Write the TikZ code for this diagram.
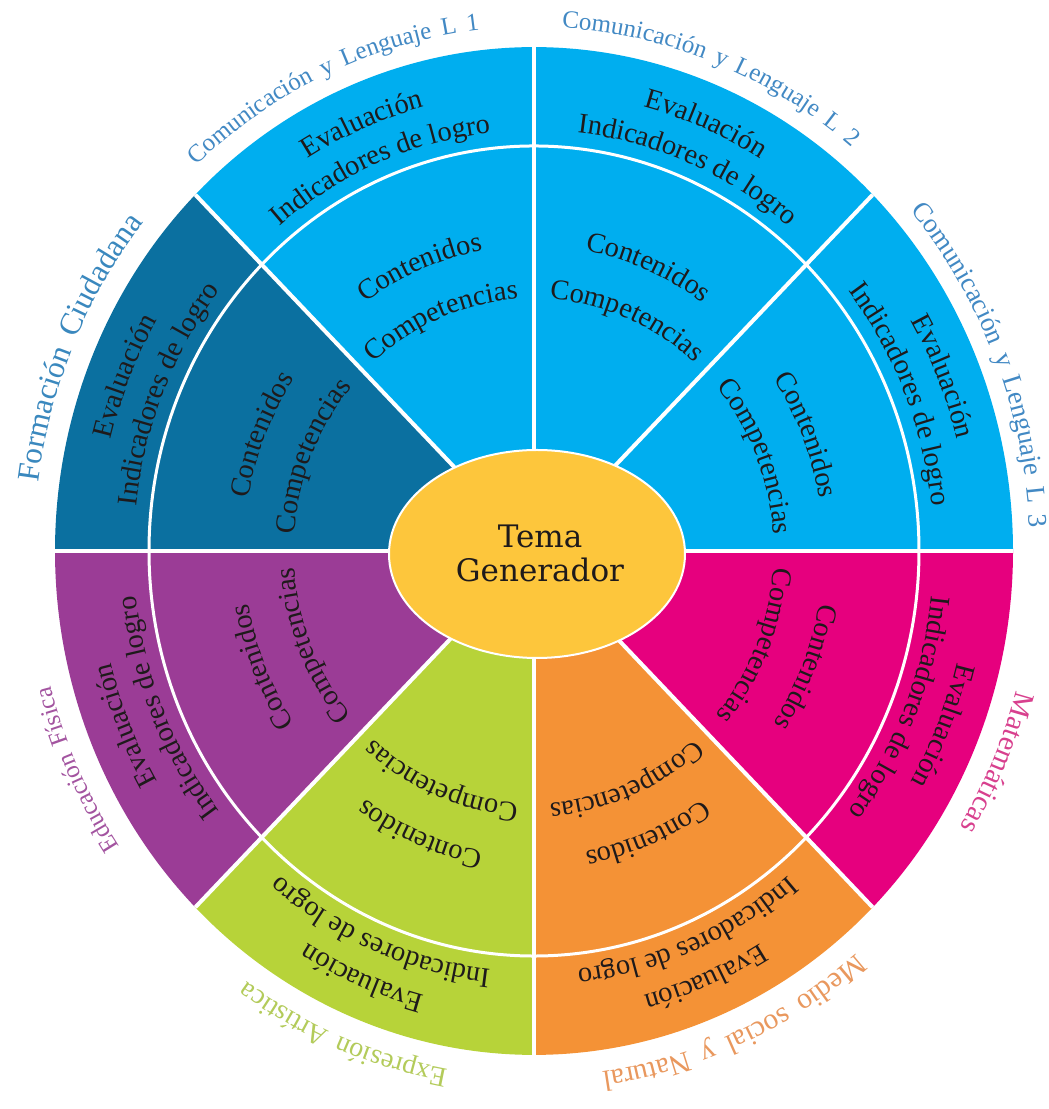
\documentclass[tikz,border=0pt]{standalone}
\usepackage{fontspec}
\setmainfont{Liberation Serif}
\newfontfamily\lblfont[LetterSpace=15]{Liberation Serif}
\newfontfamily\temafont{DejaVu Serif}
\usetikzlibrary{decorations.text}

\definecolor{cyanA}{HTML}{00AEEF}
\definecolor{tealB}{HTML}{0B70A0}
\definecolor{purpC}{HTML}{9B3C96}
\definecolor{limeD}{HTML}{B7D339}
\definecolor{orngE}{HTML}{F49236}
\definecolor{magF}{HTML}{E6007E}
\definecolor{yelG}{HTML}{FDC63C}
\definecolor{txtK}{HTML}{1E1A1B}
\definecolor{lblBlue}{HTML}{4289C4}
\definecolor{lblFC}{HTML}{3A88BE}
\definecolor{lblPurp}{HTML}{A354A0}
\definecolor{lblLime}{HTML}{B3CB5A}
\definecolor{lblOrng}{HTML}{E9985E}
\definecolor{lblMag}{HTML}{D8408E}

\newcommand\fmtIn{\fontsize{28.5}{30}\selectfont\color{txtK}}
\newcommand\fmtLB{\lblfont\fontsize{25}{27}\selectfont\color{lblBlue}}
\newcommand\fmtLC{\lblfont\fontsize{27}{29}\selectfont\color{lblBlue}}
\newcommand\fmtFC{\lblfont\fontsize{31.5}{33}\selectfont\color{lblFC}}
\newcommand\fmtEF{\lblfont\fontsize{25}{27}\selectfont\color{lblPurp}}
\newcommand\fmtEA{\lblfont\fontsize{28}{30}\selectfont\color{lblLime}}
\newcommand\fmtMS{\lblfont\fontsize{29.5}{31}\selectfont\color{lblOrng}}
\newcommand\fmtMA{\lblfont\fontsize{29}{31}\selectfont\color{lblMag}}

% #1 radius, #2 centre angle, #3 half span, #4 format macro, #5 text
\newcommand\arcText[5]{%
  \path[decorate, decoration={text along path, text align=center, text={|#4|#5}}]
    ({#2+#3}:#1) arc[start angle={#2+#3}, end angle={#2-#3}, radius=#1];}
\newcommand\sectorFill[3]{%
  \fill[#3] (0,0) -- ({#1}:479) arc[start angle=#1, end angle=#2, radius=479] -- cycle;}
\newcommand\bandTexts[1]{%
  \arcText{436}{#1}{40}{\fmtIn}{Evaluación}
  \arcText{400}{#1}{40}{\fmtIn}{Indicadores de logro}
  \arcText{290}{#1}{40}{\fmtIn}{Contenidos}
  \arcText{240}{#1}{40}{\fmtIn}{Competencias}}

\tikzset{
  divider/.style={white, line width=4pt},
  ringline/.style={white, line width=3pt},
  hub/.style={fill=yelG, draw=white, line width=2pt}
}

\begin{document}
\begin{tikzpicture}[x=1pt,y=1pt]
\useasboundingbox (0,0) rectangle (1049,1109);
\fill[white] (0,0) rectangle (1049,1109);
\begin{scope}[shift={(534,558)}, yscale=1.052]
  \sectorFill{0}{45}{cyanA}
  \sectorFill{45}{90}{cyanA}
  \sectorFill{90}{135}{cyanA}
  \sectorFill{135}{180}{tealB}
  \sectorFill{180}{225}{purpC}
  \sectorFill{225}{270}{limeD}
  \sectorFill{270}{315}{orngE}
  \sectorFill{315}{360}{magF}
  \foreach \a in {0,45,...,315} \draw[divider] (0,0) -- (\a:479);
  \draw[ringline] (0,0) circle[radius=385];
  % texts in the bands
  \bandTexts{112.5}
  \bandTexts{67.5}
  \bandTexts{22.5}
  \bandTexts{157.5}
  \bandTexts{202.5}
  \bandTexts{247.5}
  \bandTexts{292.5}
  \bandTexts{337.5}
  % outer labels
  \arcText{498}{114}{45}{\fmtLB}{Comunicación y Lenguaje L 1}
  \arcText{498}{69}{45}{\fmtLB}{Comunicación y Lenguaje L 2}
  \arcText{496}{22}{45}{\fmtLC}{Comunicación y Lenguaje L 3}
  \arcText{500}{156.5}{45}{\fmtFC}{Formación Ciudadana}
  \arcText{500}{205}{45}{\fmtEF}{Educación Física}
  \arcText{500}{248}{45}{\fmtEA}{Expresión Artística}
  \arcText{500}{293.5}{45}{\fmtMS}{Medio social y Natural}
  \arcText{500}{336}{45}{\fmtMA}{Matemáticas}
\end{scope}
\path[hub] (537,555) ellipse[x radius=148, y radius=104];
\node[align=center, font=\temafont\fontsize{31}{34}\selectfont, text=txtK] (tema) at (540,556) {Tema\\Generador};
\end{tikzpicture}
\end{document}
